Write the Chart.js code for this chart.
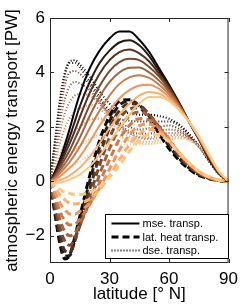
<!DOCTYPE html>
<html>
<head>
<meta charset="utf-8">
<script src="https://cdn.jsdelivr.net/npm/chart.js@4.4.1/dist/chart.umd.min.js"></script>
<style>
  html, body { margin: 0; padding: 0; background: #fff; }
</style>
</head>
<body>
<canvas id="transportChart" width="244" height="308"></canvas>
<script>
// latitude grid (deg N)
const lats = [0, 2.5, 5, 7.5, 10, 12.5, 15, 20, 25, 30, 35, 40, 45, 50, 55, 60, 65, 70, 75, 80, 85, 90];

// moist static energy transport, one row per run (dark -> light)
const mseTransp = [
  [0, 0.35, 0.8, 1.35, 1.95, 2.6, 3.2, 4.15, 4.8, 5.25, 5.5, 5.5, 5.2, 4.75, 4.15, 3.55, 2.9, 2.2, 1.55, 0.85, 0.3, 0],
  [0, 0.3, 0.7, 1.15, 1.65, 2.2, 2.75, 3.65, 4.35, 4.8, 5.1, 5.18, 5.0, 4.6, 4.05, 3.5, 2.9, 2.2, 1.55, 0.87, 0.32, 0],
  [0, 0.25, 0.6, 1.0, 1.4, 1.85, 2.35, 3.25, 3.95, 4.45, 4.75, 4.84, 4.7, 4.4, 3.95, 3.45, 2.85, 2.2, 1.57, 0.9, 0.33, 0],
  [0, 0.2, 0.5, 0.82, 1.15, 1.55, 1.95, 2.8, 3.5, 4.05, 4.38, 4.5, 4.45, 4.2, 3.85, 3.38, 2.82, 2.2, 1.58, 0.92, 0.34, 0],
  [0, 0.15, 0.4, 0.65, 0.92, 1.25, 1.6, 2.4, 3.1, 3.65, 4.0, 4.17, 4.18, 4.0, 3.7, 3.3, 2.8, 2.2, 1.6, 0.94, 0.35, 0],
  [0, 0.1, 0.3, 0.5, 0.72, 0.98, 1.27, 1.95, 2.6, 3.15, 3.58, 3.82, 3.9, 3.8, 3.55, 3.2, 2.75, 2.2, 1.62, 0.96, 0.36, 0],
  [0, 0.05, 0.18, 0.33, 0.5, 0.68, 0.9, 1.45, 2.05, 2.6, 3.05, 3.35, 3.52, 3.55, 3.4, 3.1, 2.7, 2.2, 1.63, 0.98, 0.37, 0],
  [0, 0.0, 0.05, 0.12, 0.22, 0.35, 0.5, 0.9, 1.4, 1.95, 2.45, 2.85, 3.15, 3.28, 3.22, 3.0, 2.65, 2.2, 1.65, 1.0, 0.38, 0],
  [0, -0.05, -0.05, 0.0, 0.07, 0.15, 0.25, 0.55, 0.95, 1.45, 1.95, 2.45, 2.85, 3.1, 3.1, 2.95, 2.62, 2.2, 1.66, 1.02, 0.39, 0]
];

// latent heat transport
const latTransp = [
  [0, -1.2, -2.3, -2.85, -2.7, -2.05, -1.3, 0.2, 1.5, 2.4, 2.95, 3.0, 2.75, 2.3, 1.75, 1.2, 0.78, 0.45, 0.22, 0.1, 0.03, 0],
  [0, -1.1, -2.15, -2.75, -2.72, -2.15, -1.45, 0.0, 1.25, 2.2, 2.8, 2.95, 2.8, 2.4, 1.85, 1.3, 0.85, 0.5, 0.25, 0.11, 0.03, 0],
  [0, -1.0, -1.95, -2.55, -2.6, -2.2, -1.6, -0.3, 0.95, 1.95, 2.6, 2.85, 2.8, 2.45, 1.95, 1.4, 0.92, 0.55, 0.28, 0.12, 0.04, 0],
  [0, -0.85, -1.7, -2.2, -2.35, -2.1, -1.65, -0.55, 0.6, 1.6, 2.3, 2.65, 2.7, 2.45, 2.0, 1.48, 0.98, 0.58, 0.3, 0.13, 0.04, 0],
  [0, -0.7, -1.4, -1.85, -2.0, -1.9, -1.6, -0.75, 0.25, 1.2, 1.95, 2.4, 2.55, 2.4, 2.0, 1.52, 1.03, 0.62, 0.32, 0.14, 0.04, 0],
  [0, -0.55, -1.1, -1.45, -1.6, -1.58, -1.4, -0.85, -0.05, 0.8, 1.55, 2.05, 2.3, 2.25, 1.95, 1.52, 1.05, 0.65, 0.34, 0.15, 0.05, 0],
  [0, -0.4, -0.8, -1.05, -1.2, -1.2, -1.1, -0.8, -0.25, 0.45, 1.15, 1.7, 2.05, 2.1, 1.9, 1.5, 1.05, 0.66, 0.35, 0.16, 0.05, 0],
  [0, -0.25, -0.5, -0.68, -0.8, -0.83, -0.8, -0.65, -0.3, 0.2, 0.8, 1.35, 1.75, 1.9, 1.8, 1.48, 1.05, 0.67, 0.36, 0.16, 0.05, 0],
  [0, -0.15, -0.3, -0.4, -0.45, -0.48, -0.48, -0.42, -0.2, 0.15, 0.6, 1.1, 1.5, 1.72, 1.7, 1.45, 1.05, 0.68, 0.37, 0.17, 0.05, 0]
];

// dry static energy transport
const dseTransp = [
  [0, 1.5, 3.0, 4.0, 4.4, 4.45, 4.3, 3.85, 3.3, 2.85, 2.55, 2.5, 2.45, 2.45, 2.4, 2.3, 2.1, 1.75, 1.3, 0.75, 0.27, 0],
  [0, 1.4, 2.85, 3.9, 4.35, 4.35, 4.2, 3.65, 3.1, 2.6, 2.3, 2.23, 2.2, 2.2, 2.2, 2.2, 2.05, 1.7, 1.3, 0.76, 0.29, 0],
  [0, 1.25, 2.55, 3.55, 4.0, 4.05, 3.95, 3.55, 3.0, 2.5, 2.15, 2.0, 1.9, 1.95, 2.0, 2.05, 1.93, 1.65, 1.29, 0.78, 0.29, 0],
  [0, 1.05, 2.2, 3.02, 3.5, 3.65, 3.6, 3.35, 2.9, 2.45, 2.08, 1.85, 1.75, 1.75, 1.85, 1.9, 1.84, 1.62, 1.28, 0.79, 0.3, 0],
  [0, 0.85, 1.8, 2.5, 2.92, 3.15, 3.2, 3.15, 2.85, 2.45, 2.05, 1.77, 1.63, 1.6, 1.7, 1.78, 1.77, 1.58, 1.28, 0.8, 0.31, 0],
  [0, 0.65, 1.4, 1.95, 2.32, 2.56, 2.67, 2.8, 2.65, 2.35, 2.03, 1.77, 1.6, 1.55, 1.6, 1.68, 1.7, 1.55, 1.28, 0.81, 0.31, 0],
  [0, 0.45, 0.98, 1.38, 1.7, 1.88, 2.0, 2.25, 2.3, 2.15, 1.9, 1.65, 1.47, 1.45, 1.5, 1.6, 1.65, 1.54, 1.28, 0.82, 0.32, 0],
  [0, 0.25, 0.55, 0.8, 1.02, 1.18, 1.3, 1.55, 1.7, 1.75, 1.65, 1.5, 1.4, 1.38, 1.42, 1.52, 1.6, 1.53, 1.29, 0.84, 0.33, 0],
  [0, 0.1, 0.25, 0.4, 0.52, 0.63, 0.73, 0.97, 1.15, 1.3, 1.35, 1.35, 1.35, 1.38, 1.4, 1.5, 1.57, 1.52, 1.29, 0.85, 0.34, 0]
];

// copper-like colours, dark to light
const runColors = ['#000000', '#281910', '#503220', '#784b30', '#9f643f', '#c77c4f', '#ef955f', '#ffae6f', '#ffc77f'];

const xTicks = [0, 30, 60, 90];
const yTicks = [-2, 0, 2, 4, 6];
const legendLabels = ['mse. transp.', 'lat. heat transp.', 'dse. transp.'];

const FONT = '"Liberation Sans", Arial, Helvetica, sans-serif';

// line styles for the three quantities
const lineStyles = [
  { dash: [], width: 2 },        // mse
  { dash: [7, 4], width: 3 },    // latent heat
  { dash: [1, 2], width: 2 }     // dse
];

function toPoints(values) {
  return values.map((v, i) => ({ x: lats[i], y: v }));
}

const datasets = [];
[mseTransp, latTransp, dseTransp].forEach((group, g) => {
  group.forEach((values, k) => {
    datasets.push({
      label: legendLabels[g] + ' ' + k,
      data: toPoints(values),
      borderColor: runColors[k],
      borderWidth: lineStyles[g].width,
      borderDash: lineStyles[g].dash,
      borderCapStyle: 'butt',
      pointRadius: 0,
      fill: false,
      cubicInterpolationMode: 'monotone',
      order: g * 10 + (8 - k)
    });
  });
});

// axes box with inward ticks and the legend, drawn MATLAB style
const axesBox = {
  id: 'axesBox',
  afterDatasetsDraw(chart) {
    const { ctx, chartArea: a, scales: { x, y } } = chart;
    ctx.save();
    ctx.strokeStyle = '#262626';
    ctx.lineWidth = 1;
    ctx.strokeRect(a.left + 0.5, a.top + 0.5, a.right - a.left - 1, a.bottom - a.top - 1);
    const tl = 4;
    ctx.beginPath();
    xTicks.forEach(v => {
      const px = Math.round(x.getPixelForValue(v)) + 0.5;
      ctx.moveTo(px, a.bottom); ctx.lineTo(px, a.bottom - tl);
      ctx.moveTo(px, a.top); ctx.lineTo(px, a.top + tl);
    });
    yTicks.forEach(v => {
      const py = Math.round(y.getPixelForValue(v)) + 0.5;
      ctx.moveTo(a.left, py); ctx.lineTo(a.left + tl, py);
      ctx.moveTo(a.right, py); ctx.lineTo(a.right - tl, py);
    });
    ctx.stroke();

    // legend box, lower right inside the axes
    const bw = 123, bh = 44;
    const bx = Math.round(a.right - 1 - bw) + 0.5;
    const by = Math.round(a.bottom - 5 - bh) + 0.5;
    ctx.fillStyle = '#fff';
    ctx.fillRect(bx, by, bw, bh);
    ctx.strokeStyle = '#000';
    ctx.lineWidth = 1;
    ctx.strokeRect(bx, by, bw, bh);
    ctx.font = '11px ' + FONT;
    ctx.textBaseline = 'middle';
    legendLabels.forEach((txt, i) => {
      const ly = by + 9 + i * 13.5;
      ctx.beginPath();
      ctx.setLineDash(lineStyles[i].dash);
      ctx.lineWidth = lineStyles[i].width;
      ctx.strokeStyle = '#000';
      ctx.lineCap = 'butt';
      ctx.moveTo(bx + 6, ly);
      ctx.lineTo(bx + 34, ly);
      ctx.stroke();
      ctx.setLineDash([]);
      ctx.fillStyle = '#000';
      ctx.fillText(txt, bx + 37, ly + 0.5);
    });
    ctx.restore();
  }
};

new Chart(document.getElementById('transportChart'), {
  type: 'line',
  data: { datasets },
  options: {
    responsive: false,
    animation: false,
    layout: { padding: { top: 18, right: 14, left: 0, bottom: 0 } },
    plugins: {
      legend: { display: false },
      tooltip: { enabled: false }
    },
    scales: {
      x: {
        type: 'linear',
        min: 0,
        max: 90,
        afterBuildTicks: s => { s.ticks = xTicks.map(v => ({ value: v })); },
        afterFit: s => { s.height = 45; },
        grid: { display: false, drawTicks: false },
        border: { display: false },
        ticks: { padding: 6, color: '#000', font: { family: FONT, size: 17 }, maxRotation: 0 },
        title: {
          display: true,
          text: 'latitude [° N]',
          color: '#000',
          font: { family: FONT, size: 17 },
          padding: { top: 0, bottom: 3 }
        }
      },
      y: {
        min: -3,
        max: 6,
        afterBuildTicks: s => { s.ticks = yTicks.map(v => ({ value: v })); },
        afterFit: s => { s.width = 50; },
        grid: { display: false, drawTicks: false },
        border: { display: false },
        ticks: {
          padding: 5,
          color: '#000',
          font: { family: FONT, size: 17 },
          callback: v => String(v).replace('-', '\u2212')
        },
        title: {
          display: true,
          text: 'atmospheric energy transport [PW]',
          color: '#000',
          font: { family: FONT, size: 17 },
          padding: { top: 2, bottom: 0 }
        }
      }
    }
  },
  plugins: [axesBox]
});
</script>
</body>
</html>
